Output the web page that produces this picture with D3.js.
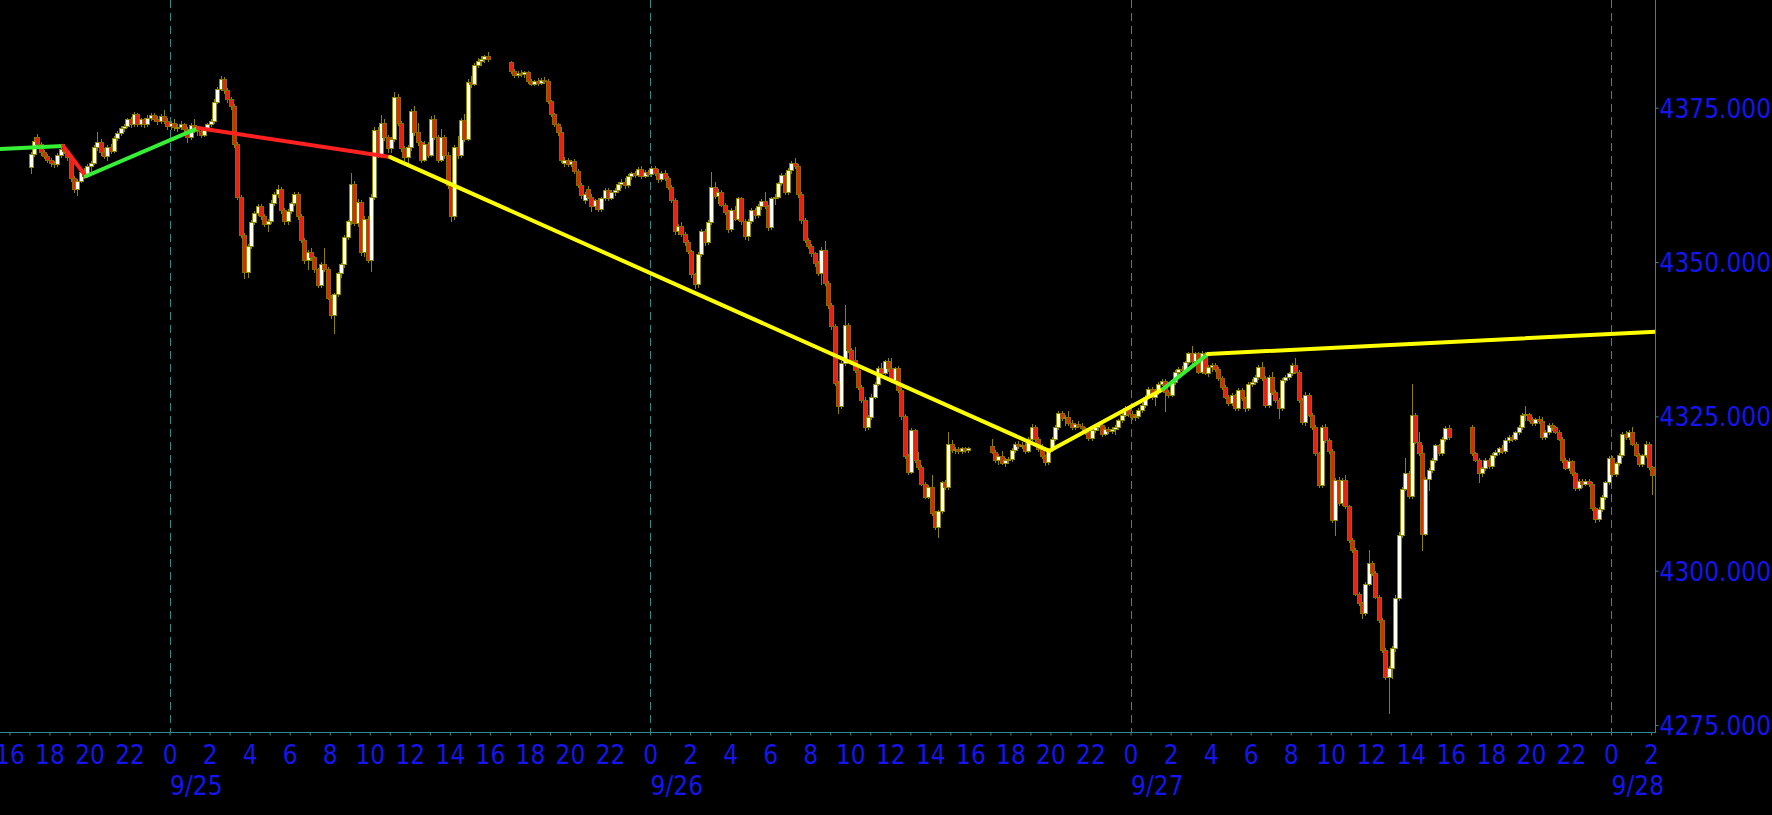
<!DOCTYPE html>
<html><head><meta charset="utf-8">
<script src="https://cdn.jsdelivr.net/npm/d3@7"></script>
<style>
html,body{margin:0;padding:0;background:#000;overflow:hidden}
svg{display:block}
text{font-family:"DejaVu Sans Condensed","DejaVu Sans",sans-serif;font-stretch:condensed}
</style></head><body>
<svg id="chart" width="1772" height="815"></svg>
<script>
// ---------- DATA ----------
// 10-minute bars, one array per OHLC field; sessions open 17:00 and run to 16:00
const sessionStarts = ["2023-09-24T17:00:00Z","2023-09-25T17:00:00Z","2023-09-26T17:00:00Z","2023-09-27T17:00:00Z"];
const sessionBarCounts = [138, 138, 138, 55];
const barMinutes = 10;

const opens = [
// 9/24 17:00 - 9/25 15:50
4365.4,4367.5,4370.2,4369.2,4367.8,4367.1, 4366.6,4366.0,4365.8,4367.3,4368.3,4368.0,
4367.0,4363.6,4361.8,4363.2,4364.6,4364.0, 4365.5,4366.1,4368.6,4369.4,4367.8,4367.2,
4368.7,4368.0,4370.1,4370.9,4371.7,4372.0, 4373.1,4372.3,4373.9,4372.4,4373.1,4372.3,
4373.4,4373.8,4373.2,4372.9,4373.6,4372.9,
4372.1,4372.6,4371.8,4371.9,4372.4,4371.6, 4370.2,4372.2,4371.4,4371.2,4370.6,4371.7,
4372.4,4372.9,4376.0,4378.0,4379.6,4377.8, 4376.4,4375.3,4369.2,4360.6,4354.4,4348.4,
4352.6,4356.5,4357.9,4359.1,4357.4,4356.2, 4356.6,4359.6,4361.0,4361.9,4358.4,4356.6,
4358.3,4359.5,4361.1,4357.4,4353.6,4350.3, 4351.6,4350.8,4348.8,4346.3,4349.6,4348.9,
4344.2,4341.4,4344.8,4348.2,4349.6,4354.1, 4356.6,4362.6,4356.4,4359.8,4351.6,4357.0,
4350.4,4360.6,4371.4,4367.4,4372.6,4370.3, 4368.4,4369.9,4376.8,4372.6,4368.4,4367.0,
4368.6,4374.4,4371.0,4369.4,4366.6,4369.1, 4367.4,4373.2,4370.3,4366.6,4370.2,4367.4,
4362.4,4357.4,4368.6,4367.3,4373.0,4370.0, 4379.2,4378.8,4381.9,4382.6,4382.9,4383.3,
// 9/25 17:00 - 9/26 15:50
4382.4,4380.9,4380.3,4380.7,4380.4,4380.8, 4379.3,4378.9,4379.3,4379.0,4379.5,4379.3,
4376.1,4374.0,4372.3,4371.0,4366.0,4366.5, 4365.9,4366.4,4364.7,4362.5,4360.0,4361.9,
4360.6,4359.0,4360.0,4358.6,4360.3,4361.7, 4360.4,4361.3,4361.7,4362.7,4363.0,4362.4,
4363.9,4364.4,4364.1,4365.1,4364.0,4364.6, 4364.3,4365.2,4364.4,4363.4,4364.5,4363.6,
4362.1,4360.1,4355.0,4355.8,4354.6,4353.2, 4351.8,4348.0,4346.4,4351.3,4355.1,4353.2,
4356.5,4362.2,4360.7,4361.4,4359.3,4358.1, 4355.3,4358.4,4357.0,4360.3,4356.6,4354.2,
4356.6,4358.4,4357.6,4359.0,4359.9,4359.1, 4355.6,4360.3,4360.6,4362.8,4364.1,4361.4,
4364.9,4366.0,4365.6,4361.0,4356.8,4353.6, 4352.6,4351.4,4349.8,4348.2,4352.0,4346.6,
4343.0,4339.6,4330.4,4326.6,4333.6,4339.8, 4335.7,4334.1,4332.5,4329.8,4327.6,4323.3,
4324.9,4328.2,4330.3,4332.8,4332.0,4333.9, 4332.8,4330.9,4332.8,4329.3,4325.0,4318.6,
4316.0,4322.8,4318.0,4316.8,4314.1,4312.0, 4313.6,4309.3,4307.1,4309.6,4314.4,4313.6,
4320.6,4319.5,4319.7,4319.4,4319.8,4319.5,
// 9/26 17:00 - 9/27 15:50
4320.2,4319.3,4317.9,4318.6,4317.5,4317.9, 4318.1,4319.5,4320.6,4320.2,4320.4,4319.4,
4321.4,4323.3,4321.4,4319.7,4318.5,4317.6, 4319.7,4321.4,4323.3,4325.5,4324.7,4324.9,
4323.9,4323.2,4323.7,4323.5,4323.1,4322.5, 4321.5,4322.8,4323.3,4323.6,4322.1,4323.0,
4322.6,4322.9,4323.3,4324.4,4325.2,4326.3, 4325.3,4324.9,4325.1,4326.0,4326.8,4328.2,
4329.5,4328.1,4329.0,4330.3,4330.8,4329.0, 4328.5,4330.6,4332.2,4332.7,4332.5,4333.8,
4335.2,4333.9,4335.2,4332.2,4335.2,4332.0, 4333.0,4333.3,4332.7,4331.2,4329.8,4328.2,
4327.1,4328.5,4326.3,4329.3,4327.9,4326.3, 4330.3,4330.6,4331.4,4333.0,4331.2,4326.8,
4331.4,4329.0,4327.6,4326.3,4330.9,4331.4, 4332.0,4333.3,4332.2,4327.6,4324.1,4328.5,
4325.2,4323.3,4319.0,4313.9,4323.3,4321.2, 4319.4,4308.2,4314.7,4311.0,4314.7,4310.4,
4305.0,4303.3,4296.3,4294.7,4293.1,4297.9, 4301.2,4299.6,4295.8,4292.0,4287.1,4282.8,
4284.2,4287.4,4295.6,4305.8,4313.3,4315.8, 4312.1,4325.2,4320.9,4319.0,4306.0,4314.9,
4316.3,4317.9,4320.3,4319.0,4321.4,4323.1,
// 9/27 17:00 - 9/28 02:00
4323.3,4319.0,4317.9,4315.8,4316.6,4317.9, 4317.0,4318.7,4319.3,4319.8,4319.4,4321.2,
4321.7,4321.4,4322.5,4323.3,4325.2,4325.4, 4324.4,4323.9,4324.6,4324.2,4321.7,4322.5,
4323.6,4323.2,4322.5,4321.4,4317.9,4316.6, 4317.8,4315.8,4313.4,4314.5,4314.1,4314.6,
4314.0,4310.1,4308.3,4310.0,4311.9,4314.3, 4318.2,4315.6,4317.4,4318.7,4322.2,4321.6,
4322.5,4320.6,4318.8,4317.2,4318.7,4320.6, 4316.8
];

const highs = [
4367.9,4370.2,4370.8,4369.5,4368.2,4367.5, 4366.9,4366.4,4367.6,4368.6,4369.1,4368.3,
4367.2,4363.9,4363.4,4364.8,4365.2,4365.8, 4366.4,4368.9,4371.0,4370.0,4368.4,4369.0,
4369.2,4370.4,4371.2,4372.0,4372.4,4373.4, 4373.5,4374.3,4374.2,4373.4,4373.4,4373.8,
4374.1,4374.2,4373.6,4374.0,4374.6,4373.3,
4372.9,4373.1,4372.3,4372.8,4372.6,4371.9, 4372.6,4373.2,4371.9,4371.6,4371.9,4372.6,
4373.2,4376.4,4378.4,4380.1,4379.9,4378.2, 4376.8,4375.6,4369.4,4360.9,4354.7,4352.9,
4356.8,4358.2,4359.4,4359.4,4357.7,4356.9, 4360.0,4361.3,4362.5,4362.1,4358.7,4358.6,
4359.8,4361.4,4361.4,4357.8,4353.9,4352.0, 4352.2,4351.0,4349.0,4350.0,4352.2,4349.2,
4344.6,4345.0,4348.4,4349.8,4354.4,4356.8, 4364.4,4363.2,4360.2,4360.1,4357.4,4357.5,
4361.0,4371.8,4371.8,4373.8,4373.2,4370.6, 4370.2,4377.6,4377.2,4372.9,4368.8,4369.0,
4374.8,4375.2,4372.6,4369.6,4369.6,4369.4, 4373.6,4373.8,4370.6,4371.6,4370.6,4367.8,
4362.8,4369.0,4370.4,4373.4,4374.0,4379.6, 4380.2,4382.2,4383.0,4383.4,4383.6,4384.0,
4382.6,4381.2,4381.0,4381.1,4381.0,4381.0, 4379.6,4379.5,4379.8,4379.8,4380.0,4379.6,
4376.3,4374.2,4372.6,4371.8,4367.0,4366.9, 4366.6,4366.7,4365.0,4362.8,4361.4,4362.3,
4361.0,4360.2,4360.4,4360.6,4362.0,4362.0, 4361.6,4362.0,4363.0,4363.4,4363.6,4364.2,
4364.6,4364.8,4365.4,4365.5,4364.9,4364.9, 4365.6,4365.6,4365.1,4364.8,4364.9,4363.9,
4362.4,4360.4,4356.2,4356.5,4354.9,4353.6, 4352.0,4348.3,4351.6,4355.4,4355.4,4356.8,
4364.6,4363.0,4361.8,4361.7,4359.6,4358.4, 4358.8,4359.0,4360.6,4360.6,4356.9,4356.9,
4358.7,4358.8,4359.4,4360.2,4361.4,4359.3, 4360.6,4361.0,4363.0,4364.4,4364.4,4365.2,
4366.4,4366.8,4365.9,4361.3,4357.1,4353.9, 4352.9,4351.7,4350.1,4352.4,4353.4,4346.9,
4343.3,4339.9,4330.7,4334.0,4343.0,4340.1, 4336.0,4336.2,4332.8,4330.1,4328.2,4325.2,
4328.6,4330.6,4333.1,4333.6,4334.2,4334.4, 4334.4,4333.0,4333.1,4329.6,4325.3,4318.9,
4323.1,4323.0,4319.3,4317.1,4314.3,4313.9, 4315.5,4309.6,4309.9,4314.6,4314.7,4322.5,
4321.2,4320.0,4320.0,4320.0,4320.1,4320.0,
4321.4,4319.6,4318.9,4319.4,4318.2,4318.4, 4319.8,4320.9,4321.0,4320.8,4320.7,4321.6,
4323.8,4323.6,4321.7,4320.6,4318.8,4319.8, 4321.7,4323.6,4325.8,4325.9,4325.2,4325.8,
4324.4,4324.0,4324.2,4323.9,4323.3,4322.7, 4323.0,4323.6,4324.0,4324.0,4323.3,4323.3,
4323.2,4323.6,4324.6,4325.5,4326.6,4326.5, 4325.9,4325.4,4326.3,4327.1,4328.5,4329.8,
4329.8,4329.4,4330.6,4331.0,4331.0,4329.3, 4330.9,4332.5,4333.0,4333.2,4334.0,4335.4,
4336.4,4335.5,4335.4,4335.6,4335.4,4333.3, 4333.6,4333.6,4333.0,4331.5,4330.1,4328.4,
4328.8,4328.7,4329.6,4329.6,4328.2,4330.6, 4331.0,4331.7,4333.3,4333.8,4331.5,4331.7,
4332.2,4329.3,4327.9,4331.2,4331.7,4332.2, 4333.6,4334.4,4332.5,4327.9,4328.9,4328.8,
4325.5,4323.6,4319.3,4323.6,4323.8,4321.5, 4319.7,4315.0,4315.2,4315.0,4315.5,4310.7,
4305.3,4303.6,4296.6,4295.0,4298.2,4303.3, 4301.5,4299.9,4296.1,4292.3,4287.4,4284.5,
4287.8,4296.0,4306.2,4313.6,4318.2,4316.1, 4330.3,4325.5,4322.5,4320.3,4315.2,4316.6,
4318.2,4320.6,4320.6,4321.7,4323.4,4323.6,
4323.6,4319.3,4318.2,4316.8,4318.2,4318.2, 4319.0,4319.6,4320.0,4320.3,4321.5,4322.0,
4322.0,4322.7,4323.6,4325.5,4326.6,4325.6, 4324.9,4324.8,4325.0,4324.9,4322.8,4323.9,
4324.0,4323.5,4322.8,4321.6,4318.2,4318.2, 4318.0,4316.0,4314.8,4314.9,4314.9,4314.9,
4314.3,4310.3,4310.3,4312.2,4314.6,4318.5, 4318.5,4317.6,4319.0,4322.5,4322.7,4322.8,
4323.3,4320.9,4319.0,4318.9,4321.0,4320.9, 4317.0
];

const lows = [
4364.4,4367.2,4368.9,4367.4,4366.8,4366.2, 4365.6,4365.4,4365.6,4367.0,4367.6,4366.6,
4363.2,4361.4,4360.9,4362.9,4363.6,4363.7, 4364.8,4365.8,4368.2,4367.4,4366.8,4366.6,
4367.6,4367.8,4369.8,4370.6,4371.2,4371.8, 4371.9,4372.0,4372.0,4372.0,4371.9,4372.0,
4373.0,4372.8,4372.4,4372.6,4372.6,4371.6,
4371.5,4371.4,4371.2,4371.5,4371.2,4369.5, 4370.0,4371.0,4370.6,4370.2,4370.4,4371.4,
4372.0,4372.6,4375.8,4377.8,4377.4,4375.9, 4374.8,4368.6,4360.2,4354.0,4347.4,4347.6,
4352.2,4356.2,4357.6,4357.0,4355.8,4355.0, 4356.3,4359.2,4360.6,4358.0,4356.2,4356.2,
4358.0,4359.2,4357.0,4353.3,4349.9,4348.8, 4350.3,4348.4,4345.9,4346.0,4348.6,4344.0,
4341.0,4338.5,4344.5,4347.6,4349.2,4353.8, 4356.2,4356.0,4355.8,4351.2,4351.0,4350.0,
4348.6,4360.2,4367.0,4367.0,4369.8,4367.9, 4367.8,4369.6,4372.2,4368.0,4366.6,4365.8,
4368.2,4370.6,4369.0,4366.2,4366.3,4367.0, 4367.1,4370.0,4366.2,4366.3,4366.9,4362.0,
4356.6,4357.0,4366.9,4367.0,4369.6,4369.7, 4378.4,4378.6,4381.6,4381.9,4382.4,4382.6,
4380.6,4380.0,4380.0,4380.2,4380.0,4379.0, 4378.6,4378.6,4378.7,4378.8,4379.0,4375.8,
4373.6,4372.0,4370.6,4366.2,4365.6,4365.6, 4365.6,4364.4,4362.2,4360.4,4359.6,4360.3,
4358.2,4358.6,4358.3,4358.2,4360.0,4360.1, 4360.2,4360.9,4361.4,4362.2,4362.0,4362.1,
4363.5,4363.8,4363.9,4363.6,4363.7,4364.0, 4364.0,4364.1,4363.0,4363.1,4363.3,4361.8,
4359.7,4354.6,4354.5,4354.2,4352.8,4351.4, 4347.6,4345.8,4346.0,4351.0,4352.8,4352.9,
4356.2,4360.3,4359.6,4359.0,4357.8,4354.8, 4355.0,4356.8,4356.8,4356.2,4353.8,4353.6,
4356.3,4357.2,4357.3,4358.6,4358.8,4355.2, 4355.3,4359.4,4360.3,4362.5,4361.0,4361.1,
4364.5,4365.2,4360.6,4356.4,4353.3,4352.2, 4351.0,4349.4,4347.9,4346.4,4346.2,4342.6,
4339.2,4330.0,4325.5,4326.3,4333.3,4335.4, 4333.8,4332.2,4329.5,4327.3,4322.8,4322.9,
4324.6,4327.9,4330.0,4331.7,4331.8,4332.3, 4330.6,4330.6,4328.9,4324.6,4318.2,4315.6,
4315.8,4317.6,4316.5,4313.8,4311.7,4311.8, 4309.0,4306.8,4305.5,4309.3,4313.2,4313.3,
4319.2,4319.0,4319.1,4319.1,4319.3,4319.2,
4319.0,4317.6,4317.2,4317.2,4317.0,4317.4, 4317.8,4319.2,4319.8,4319.8,4319.1,4319.2,
4321.2,4321.0,4319.4,4318.2,4317.1,4317.3, 4319.4,4321.1,4323.0,4324.4,4323.6,4323.6,
4322.9,4322.9,4323.2,4322.8,4322.2,4321.2, 4321.2,4322.4,4322.8,4321.8,4321.9,4322.3,
4322.3,4322.2,4322.9,4324.1,4325.0,4325.0, 4324.6,4324.4,4324.8,4325.7,4326.5,4327.9,
4327.8,4326.8,4328.7,4330.0,4325.8,4328.2, 4328.3,4330.3,4331.9,4332.2,4332.2,4333.5,
4333.6,4333.6,4332.0,4332.0,4331.8,4331.6, 4332.4,4332.4,4330.9,4329.5,4327.9,4326.8,
4326.8,4326.0,4326.0,4327.6,4325.9,4326.0, 4329.9,4330.2,4331.1,4330.9,4326.5,4326.5,
4328.7,4327.3,4324.7,4326.0,4330.6,4331.0, 4331.7,4332.0,4327.3,4323.8,4323.6,4325.0,
4323.0,4318.7,4313.6,4313.6,4320.9,4319.1, 4307.9,4305.8,4310.6,4310.7,4310.1,4304.7,
4303.0,4296.0,4294.4,4292.3,4292.8,4297.6, 4299.3,4295.5,4291.7,4286.8,4282.5,4276.9,
4282.6,4287.0,4295.2,4305.4,4313.0,4311.8, 4311.8,4320.7,4318.8,4303.3,4305.7,4313.0,
4316.0,4317.6,4318.7,4318.8,4321.0,4321.4,
4318.7,4317.8,4314.4,4315.4,4316.3,4316.7, 4316.7,4318.4,4318.9,4319.0,4319.1,4320.8,
4321.0,4321.1,4322.2,4323.0,4324.4,4324.3, 4323.6,4323.6,4323.9,4321.4,4321.3,4322.2,
4322.8,4322.3,4321.1,4317.6,4316.4,4316.3, 4315.5,4313.1,4313.0,4313.6,4313.8,4313.7,
4309.8,4307.9,4308.0,4309.7,4311.6,4314.0, 4315.3,4315.3,4317.1,4318.4,4321.3,4321.3,
4320.4,4318.6,4317.0,4316.9,4318.4,4316.5, 4312.5
];

const closes = [
4367.5,4369.6,4369.2,4367.8,4367.1,4366.6, 4366.0,4365.8,4367.3,4368.3,4368.0,4367.0,
4363.6,4361.8,4363.2,4364.6,4364.0,4365.5, 4366.1,4368.6,4369.4,4367.8,4367.2,4368.7,
4368.0,4370.1,4370.9,4371.7,4372.0,4373.1, 4372.3,4373.9,4372.4,4373.1,4372.3,4373.4,
4373.8,4373.2,4372.9,4373.6,4372.9,4372.1,
4372.6,4371.8,4371.9,4372.4,4371.6,4370.2, 4372.2,4371.4,4371.2,4370.6,4371.7,4372.4,
4372.9,4376.0,4378.0,4379.6,4377.8,4376.4, 4375.3,4369.2,4360.6,4354.4,4348.4,4352.6,
4356.5,4357.9,4359.1,4357.4,4356.2,4356.6, 4359.6,4361.0,4361.9,4358.4,4356.6,4358.3,
4359.5,4361.1,4357.4,4353.6,4350.3,4351.6, 4350.8,4348.8,4346.3,4349.6,4348.9,4344.2,
4341.4,4344.8,4348.2,4349.6,4354.1,4356.6, 4362.6,4356.4,4359.8,4351.6,4357.0,4350.4,
4360.6,4371.4,4367.4,4372.6,4370.3,4368.4, 4369.9,4376.8,4372.6,4368.4,4367.0,4368.6,
4374.4,4371.0,4369.4,4366.6,4369.1,4367.4, 4373.2,4370.3,4366.6,4370.2,4367.4,4362.4,
4357.4,4368.6,4367.3,4373.0,4370.0,4379.2, 4378.8,4381.9,4382.6,4382.9,4383.3,4382.9,
4380.9,4380.3,4380.7,4380.4,4380.8,4379.3, 4378.9,4379.3,4379.0,4379.5,4379.3,4376.1,
4374.0,4372.3,4371.0,4366.6,4366.5,4365.9, 4366.4,4364.7,4362.5,4360.8,4361.0,4360.6,
4359.0,4360.0,4358.6,4360.3,4361.7,4360.4, 4361.3,4361.7,4362.7,4363.0,4362.4,4363.9,
4364.4,4364.1,4365.1,4364.0,4364.6,4364.3, 4365.2,4364.4,4363.4,4364.5,4363.6,4362.1,
4360.1,4355.0,4355.8,4354.6,4353.2,4351.8, 4348.0,4346.4,4351.3,4355.1,4353.2,4356.5,
4362.2,4360.7,4361.4,4359.3,4358.1,4355.3, 4358.4,4357.0,4360.3,4356.6,4354.2,4356.6,
4358.4,4357.6,4359.0,4359.9,4359.1,4355.6, 4360.3,4360.6,4362.8,4364.1,4361.4,4364.9,
4366.0,4365.6,4361.0,4356.8,4353.6,4352.6, 4351.4,4349.8,4348.2,4352.0,4346.6,4343.0,
4339.6,4330.4,4326.6,4333.6,4339.8,4335.7, 4334.1,4332.5,4329.8,4327.6,4323.3,4324.9,
4328.2,4330.3,4332.8,4332.0,4333.9,4332.8, 4330.9,4332.8,4329.3,4325.0,4318.6,4316.0,
4322.8,4318.0,4316.8,4314.1,4312.0,4313.6, 4309.3,4307.1,4309.6,4314.4,4313.6,4320.6,
4319.5,4319.7,4319.4,4319.8,4319.5,4319.8,
4319.3,4317.9,4318.6,4317.5,4317.9,4318.1, 4319.5,4320.6,4320.2,4320.4,4319.4,4321.4,
4323.3,4321.4,4319.7,4318.5,4317.6,4319.7, 4321.4,4323.3,4325.5,4324.7,4324.9,4323.9,
4323.2,4323.7,4323.5,4323.1,4322.5,4321.5, 4322.8,4323.3,4323.6,4322.1,4323.0,4322.6,
4322.9,4323.3,4324.4,4325.2,4326.3,4325.3, 4324.9,4325.1,4326.0,4326.8,4328.2,4329.5,
4328.1,4329.0,4330.3,4330.8,4329.0,4328.5, 4330.6,4332.2,4332.7,4332.5,4333.8,4335.2,
4333.9,4335.2,4332.2,4335.2,4332.0,4333.0, 4333.3,4332.7,4331.2,4329.8,4328.2,4327.1,
4328.5,4326.3,4329.3,4327.9,4326.3,4330.3, 4330.6,4331.4,4333.0,4331.2,4326.8,4331.4,
4329.0,4327.6,4326.3,4330.9,4331.4,4332.0, 4333.3,4332.2,4327.6,4324.1,4328.5,4325.2,
4323.3,4319.0,4313.9,4323.3,4321.2,4319.4, 4308.2,4314.7,4311.0,4314.7,4310.4,4305.0,
4303.3,4296.3,4294.7,4293.1,4297.9,4301.2, 4299.6,4295.8,4292.0,4287.1,4282.8,4284.2,
4287.4,4295.6,4305.8,4313.3,4315.8,4312.1, 4325.2,4320.9,4319.0,4306.0,4314.9,4316.3,
4317.9,4320.3,4319.0,4321.4,4323.1,4321.7,
4319.0,4317.9,4315.8,4316.6,4317.9,4317.0, 4318.7,4319.3,4319.8,4319.4,4321.2,4321.7,
4321.4,4322.5,4323.3,4325.2,4325.4,4324.4, 4323.9,4324.6,4324.2,4321.7,4322.5,4323.6,
4323.2,4322.5,4321.4,4317.9,4316.6,4317.8, 4315.8,4313.4,4314.5,4314.1,4314.6,4314.0,
4310.1,4308.3,4310.0,4311.9,4314.3,4318.2, 4315.6,4317.4,4318.7,4322.2,4321.6,4322.5,
4320.6,4318.8,4317.2,4318.7,4320.6,4316.8, 4315.5
];

// zig-zag overlay: vertex times, prices, and colour of each leg
const zigzagTimes = ["2023-09-24T15:30:00Z","2023-09-24T18:41:00Z","2023-09-24T19:49:00Z","2023-09-25T01:25:00Z",
                     "2023-09-25T11:01:00Z","2023-09-26T19:56:00Z","2023-09-27T01:37:00Z","2023-09-27T03:52:00Z","2023-09-28T02:14:00Z"];
const zigzagPrices = [4368.3, 4368.8, 4363.9, 4371.7, 4367.0, 4319.4, 4329.4, 4335.1, 4338.7];
const zigzagColors = ["#35f035","#ff2020","#35f035","#ff2020","#ffff00","#ffff00","#35f035","#ffff00"];

const priceTicks = [4275, 4300, 4325, 4350, 4375];

// ---------- LAYOUT / STYLE ----------
const W = 1772, H = 815;
const plotRight = 1655.5, plotBottom = 732.5;
const axisColor = "#2e8c8c", labelColor = "#1515ee";
const fontSize = 26;

const base = d3.scaleUtc()
  .domain([new Date("2023-09-25T00:00:00Z"), new Date("2023-09-28T00:00:00Z")])
  .range([169.6, 1611.0]);
const x = d3.scaleUtc().domain([base.invert(0), base.invert(plotRight)]).range([0, plotRight]);
const y = d3.scaleLinear().domain([4275, 4375]).range([725, 107.7]);

// build bars
const times = [];
sessionStarts.forEach((s, i) => {
  const t0 = new Date(s);
  for (let k = 0; k < sessionBarCounts[i]; k++) times.push(d3.utcMinute.offset(t0, k * barMinutes));
});
const n = Math.min(times.length, opens.length, highs.length, lows.length, closes.length);
if (times.length !== opens.length || opens.length !== highs.length || highs.length !== lows.length || lows.length !== closes.length)
  console.warn("length mismatch", times.length, opens.length, highs.length, lows.length, closes.length);
const bars = d3.range(n).map(i => ({t: times[i], o: opens[i], h: highs[i], l: lows[i], c: closes[i]}));

const svg = d3.select("#chart");
svg.append("rect").attr("width", W).attr("height", H).attr("fill", "#000");
svg.append("defs").append("clipPath").attr("id", "plot")
  .append("rect").attr("x", 0).attr("y", 0).attr("width", plotRight).attr("height", plotBottom);

const plot = svg.append("g").attr("clip-path", "url(#plot)");

// day separators
plot.append("g").selectAll("line")
  .data(d3.utcDay.range(x.domain()[0], x.domain()[1]))
  .join("line")
  .attr("x1", d => Math.round(x(d)) + 0.5).attr("x2", d => Math.round(x(d)) + 0.5)
  .attr("y1", 0).attr("y2", plotBottom)
  .attr("stroke", axisColor).attr("stroke-width", 1)
  .attr("stroke-dasharray", "8,5");

// candles
const cg = plot.append("g").attr("shape-rendering", "crispEdges");
const cx = d => Math.floor(x(d3.utcMinute.offset(d.t, barMinutes / 2)));
cg.selectAll("line.wick").data(bars).join("line").attr("class", "wick")
  .attr("x1", d => cx(d) + 0.5).attr("x2", d => cx(d) + 0.5)
  .attr("y1", d => Math.round(y(d.h))).attr("y2", d => Math.round(y(d.l)) + 1)
  .attr("stroke", "#8a8200").attr("stroke-width", 1);
cg.selectAll("rect.body").data(bars).join("rect").attr("class", "body")
  .attr("x", d => cx(d) - 1.5)
  .attr("y", d => Math.round(y(Math.max(d.o, d.c))) + 0.5)
  .attr("width", 4)
  .attr("height", d => Math.max(1, Math.round(y(Math.min(d.o, d.c))) - Math.round(y(Math.max(d.o, d.c)))))
  .attr("fill", d => d.c >= d.o ? "#fffff0" : "#e6230c")
  .attr("stroke", d => d.c >= d.o ? "#8f8a00" : "#8a6a00")
  .attr("stroke-width", 1);

// zig-zag legs
const zz = zigzagTimes.map((t, i) => ({t: new Date(t), p: zigzagPrices[i]}));
plot.append("g").selectAll("line")
  .data(d3.range(zz.length - 1))
  .join("line")
  .attr("x1", i => x(zz[i].t)).attr("y1", i => y(zz[i].p))
  .attr("x2", i => x(zz[i + 1].t)).attr("y2", i => y(zz[i + 1].p))
  .attr("stroke", i => zigzagColors[i]).attr("stroke-width", 4).attr("stroke-linecap", "round");

// right price axis
const yAxis = svg.append("g").attr("transform", `translate(${plotRight},0)`)
  .call(d3.axisRight(y).tickValues(priceTicks).tickSize(3).tickPadding(3).tickFormat(d3.format(".3f")));
yAxis.select(".domain").remove();
yAxis.selectAll(".tick line").attr("stroke", axisColor);
yAxis.selectAll("text").attr("fill", labelColor).attr("font-size", fontSize)
  .attr("font-family", null).attr("x", 4).attr("dy", "0.36em");
svg.append("line").attr("x1", plotRight).attr("x2", plotRight).attr("y1", 0).attr("y2", plotBottom + 0.5)
  .attr("stroke", axisColor).attr("stroke-width", 1);

// bottom time axis: hour ticks every hour, labels every 2 hours
const xAxis = svg.append("g").attr("transform", `translate(0,${plotBottom})`)
  .call(d3.axisBottom(x).ticks(d3.utcHour.every(1)).tickSize(3)
    .tickFormat(d => d.getUTCHours() % 2 === 0 ? String(d.getUTCHours()) : ""));
xAxis.select(".domain").remove();
xAxis.selectAll(".tick line").attr("stroke", axisColor);
xAxis.selectAll("text").attr("fill", labelColor).attr("font-size", fontSize)
  .attr("font-family", null).attr("y", 31).attr("dy", 0);
svg.append("line").attr("x1", 0).attr("x2", plotRight).attr("y1", plotBottom).attr("y2", plotBottom)
  .attr("stroke", axisColor).attr("stroke-width", 1);

// date labels under midnight
const dAxis = svg.append("g").attr("transform", `translate(0,${plotBottom})`)
  .call(d3.axisBottom(x).ticks(d3.utcDay.every(1)).tickSize(0).tickFormat(d3.utcFormat("%-m/%-d")));
dAxis.select(".domain").remove();
dAxis.selectAll("text").attr("fill", labelColor).attr("font-size", fontSize)
  .attr("font-family", null).attr("text-anchor", "start").attr("x", 0).attr("y", 62.5).attr("dy", 0);
</script>
</body></html>
